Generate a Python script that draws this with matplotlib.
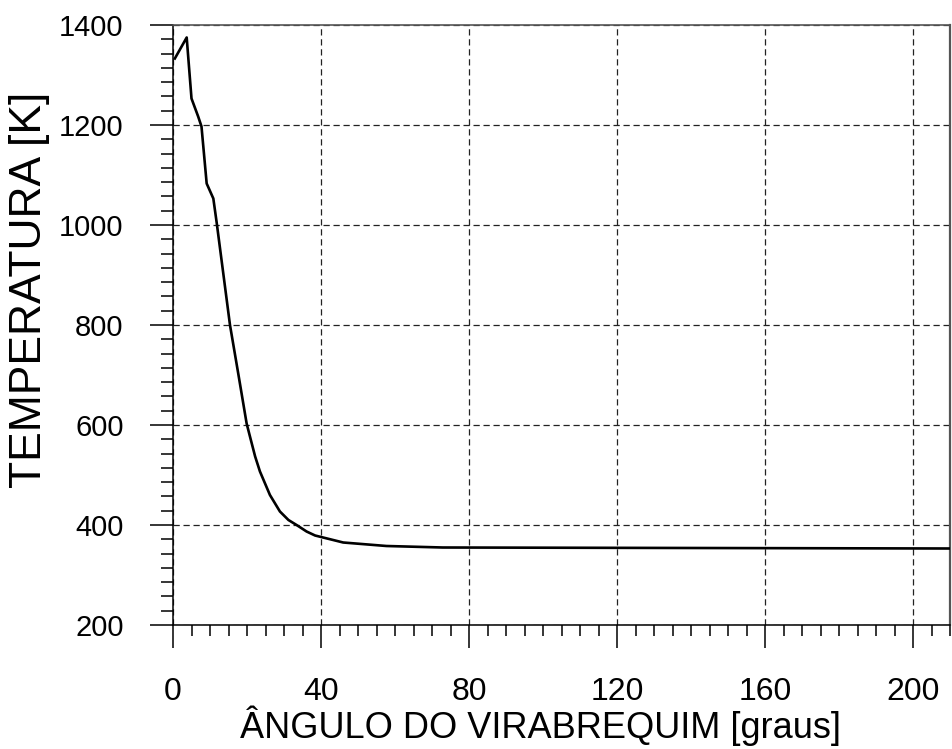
import matplotlib
matplotlib.use("Agg")
import matplotlib.pyplot as plt
from matplotlib.ticker import MultipleLocator, AutoMinorLocator

# dados
angulo = [0.5, 3.7, 5.0, 6.8, 7.7, 9.1, 10.9, 11.8, 15.4, 17.7, 19.9, 20.8, 22.2,
          23.5, 26.2, 28.9, 31.2, 33.4, 36.1, 38.4, 46.0, 57.7, 72.9, 210.0]
temperatura = [1333, 1375, 1253, 1217, 1197, 1083, 1053, 1005, 800, 700, 603, 577, 537,
               507, 460, 427, 410, 400, 387, 379, 365, 358, 355, 353]

xticks = [0, 40, 80, 120, 160, 200]
yticks = [200, 400, 600, 800, 1000, 1200, 1400]

plt.rcParams['font.family'] = ['Liberation Sans', 'DejaVu Sans']

fig = plt.figure(figsize=(9.52, 7.49), dpi=100)
ax = fig.add_axes([173/952, 1 - 625/749, 777/952, 600/749])

ax.plot(angulo, temperatura, color='black', lw=1.9, zorder=3)

ax.set_xlim(0, 210)
ax.set_ylim(200, 1400)
ax.set_xticks(xticks)
ax.set_yticks(yticks)
ax.xaxis.set_minor_locator(MultipleLocator(5))
ax.yaxis.set_minor_locator(AutoMinorLocator(7))

ax.grid(True, which='major', color='#222222', lw=0.9, linestyle=(0, (5, 3)))

ax.tick_params(axis='x', which='major', direction='out', length=16.5, width=1.1,
               pad=21, labelsize=23)
ax.tick_params(axis='x', which='minor', direction='out', length=8, width=1.1)
ax.tick_params(axis='y', which='major', direction='out', length=16.5, width=1.1,
               pad=19, labelsize=21)
ax.tick_params(axis='y', which='minor', direction='out', length=8.5, width=1.1)

for s in ['left', 'bottom']:
    ax.spines[s].set_linewidth(1.1)
    ax.spines[s].set_color('black')
ax.spines['top'].set_color('#555555')
ax.spines['top'].set_linewidth(1.2)
ax.spines['right'].set_color('#555555')
ax.spines['right'].set_linewidth(1.6)

ax.set_xlabel('ÂNGULO DO VIRABREQUIM [graus]', fontsize=26)
ax.xaxis.set_label_coords(0.473, -0.168)
ax.xaxis.label.set_va('center')
ax.set_ylabel('TEMPERATURA [K]', fontsize=32)
ax.yaxis.set_label_coords(-0.185, 0.558)
ax.yaxis.label.set_va('center')

fig.savefig('out.png', dpi=100)
